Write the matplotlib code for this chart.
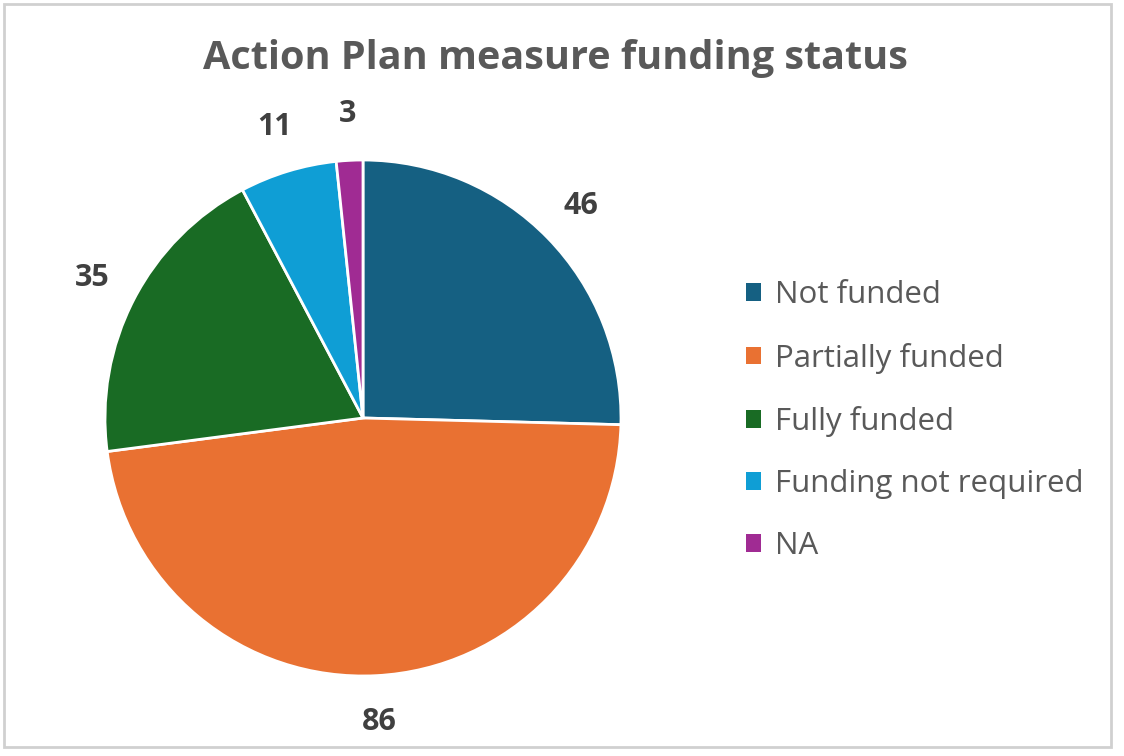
import matplotlib
matplotlib.use("Agg")
import matplotlib.pyplot as plt
from matplotlib.patches import Rectangle
from matplotlib import font_manager

categories = ["Not funded", "Partially funded", "Fully funded", "Funding not required", "NA"]
values = [46, 86, 35, 11, 3]
colors = ["#156082", "#E97132", "#196B24", "#0F9ED5", "#A02B93"]
title = "Action Plan measure funding status"

avail = {f.name for f in font_manager.fontManager.ttflist}
title_font = "Liberation Sans Narrow" if "Liberation Sans Narrow" in avail else "Open Sans"
body_font = "Open Sans"

W, H = 1124, 756
fig = plt.figure(figsize=(W / 100, H / 100), dpi=100)
fig.patch.set_facecolor("white")

# border
fig.add_artist(Rectangle((4 / W, (H - 747) / H), (1111 - 4) / W, (747 - 4) / H,
                         transform=fig.transFigure, fill=False,
                         edgecolor="#d0d0d0", linewidth=2))

cx, cy, r = 363, 418, 258
ax = fig.add_axes([(cx - r) / W, (H - cy - r) / H, 2 * r / W, 2 * r / H])

wedges, texts = ax.pie(values, colors=colors, startangle=90, counterclock=False,
                       radius=1, wedgeprops=dict(edgecolor="white", linewidth=2),
                       labels=[str(v) for v in values], labeldistance=1.18)
ax.set_xlim(-1, 1)
ax.set_ylim(-1, 1)
ax.set_aspect("equal")
ax.axis("off")
for t in texts:
    t.set_ha("center")
    t.set_va("center")
    t.set_fontsize(22)
    t.set_fontweight("bold")
    t.set_color("#404040")
    t.set_family(body_font)
    t.set_clip_on(False)

fig.text(555 / W, 1 - 58 / H, title, ha="center", va="center",
         fontsize=28.5, fontweight="bold", color="#595959", family=title_font)

leg = fig.legend(wedges, categories, loc="upper left",
                 bbox_to_anchor=(733 / W, 1 - 268 / H), frameon=False,
                 prop=dict(family=body_font, size=22.5), labelcolor="#595959",
                 handlelength=0.5, handleheight=0.5, handletextpad=0.45,
                 labelspacing=1.03, borderaxespad=0)
for h in leg.legend_handles:
    h.set_edgecolor("none")

fig.savefig("out.png", dpi=100, facecolor="white")
